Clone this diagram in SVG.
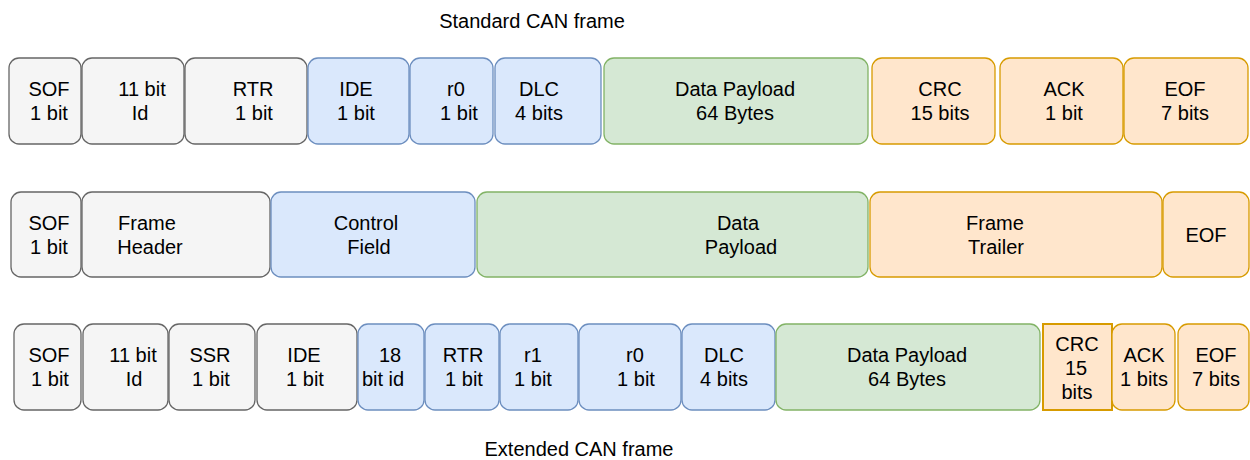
<svg xmlns="http://www.w3.org/2000/svg" width="1250" height="460" viewBox="0 0 1250 460">
<style>
text{font-family:"Liberation Sans",Arial,sans-serif;font-size:20px;fill:#000;text-anchor:middle}
rect{stroke-width:1.3}
.g{fill:#f5f5f5;stroke:#666666}
.b{fill:#dae8fc;stroke:#6c8ebf}
.d{fill:#d5e8d4;stroke:#82b366}
.o{fill:#ffe6cc;stroke:#d79b00}
</style>
<rect width="1250" height="460" fill="#ffffff" stroke="none"/>
<g id="titles">
<text x="532" y="28">Standard CAN frame</text>
<text x="579" y="456">Extended CAN frame</text>
</g>
<g id="connectors"></g>
<!-- Standard frame -->
<g id="s-sof"><rect class="g" x="9" y="58" width="72" height="86" rx="10"/><text x="49" y="96">SOF</text><text x="49" y="120">1 bit</text></g>
<g id="s-id"><rect class="g" x="82" y="58" width="102" height="86" rx="10"/><text x="142" y="96">11 bit</text><text x="140" y="120">Id</text></g>
<g id="s-rtr"><rect class="g" x="185" y="58" width="122" height="86" rx="10"/><text x="253" y="96">RTR</text><text x="254" y="120">1 bit</text></g>
<g id="s-ide"><rect class="b" x="308" y="58" width="101" height="86" rx="10"/><text x="356" y="96">IDE</text><text x="356" y="120">1 bit</text></g>
<g id="s-r0"><rect class="b" x="410" y="58" width="83" height="86" rx="10"/><text x="456" y="96">r0</text><text x="459" y="120">1 bit</text></g>
<g id="s-dlc"><rect class="b" x="495" y="58" width="106" height="86" rx="10"/><text x="539" y="96">DLC</text><text x="539" y="120">4 bits</text></g>
<g id="s-data"><rect class="d" x="604" y="58" width="264" height="86" rx="10"/><text x="735" y="96">Data Payload</text><text x="735" y="120">64 Bytes</text></g>
<g id="s-crc"><rect class="o" x="872" y="58" width="123" height="86" rx="10"/><text x="940" y="96">CRC</text><text x="940" y="120">15 bits</text></g>
<g id="s-ack"><rect class="o" x="1000" y="58" width="123" height="86" rx="10"/><text x="1064" y="96">ACK</text><text x="1064" y="120">1 bit</text></g>
<g id="s-eof"><rect class="o" x="1124" y="58" width="124" height="86" rx="10"/><text x="1185" y="96">EOF</text><text x="1185" y="120">7 bits</text></g>
<!-- Generic frame -->
<g id="m-sof"><rect class="g" x="11" y="192" width="70" height="85" rx="10"/><text x="49" y="230">SOF</text><text x="49" y="254">1 bit</text></g>
<g id="m-header"><rect class="g" x="82" y="192" width="188" height="85" rx="10"/><text x="147" y="230">Frame</text><text x="150" y="254">Header</text></g>
<g id="m-control"><rect class="b" x="271" y="192" width="204" height="85" rx="10"/><text x="366" y="230">Control</text><text x="369" y="254">Field</text></g>
<g id="m-data"><rect class="d" x="477" y="192" width="391" height="85" rx="10"/><text x="738" y="230">Data</text><text x="741" y="254">Payload</text></g>
<g id="m-trailer"><rect class="o" x="870" y="192" width="292" height="85" rx="10"/><text x="995" y="230">Frame</text><text x="996" y="254">Trailer</text></g>
<g id="m-eof"><rect class="o" x="1163" y="192" width="86" height="85" rx="10"/><text x="1206" y="242">EOF</text></g>
<!-- Extended frame -->
<g id="e-sof"><rect class="g" x="14" y="324" width="67" height="86" rx="10"/><text x="49" y="362">SOF</text><text x="50" y="386">1 bit</text></g>
<g id="e-id"><rect class="g" x="83" y="324" width="85" height="86" rx="10"/><text x="133" y="362">11 bit</text><text x="134" y="386">Id</text></g>
<g id="e-ssr"><rect class="g" x="169" y="324" width="86" height="86" rx="10"/><text x="210" y="362">SSR</text><text x="211" y="386">1 bit</text></g>
<g id="e-ide"><rect class="g" x="257" y="324" width="100" height="86" rx="10"/><text x="304" y="362">IDE</text><text x="305" y="386">1 bit</text></g>
<g id="e-18"><rect class="b" x="358" y="324" width="66" height="86" rx="10"/><text x="390" y="362">18</text><text x="383" y="386">bit id</text></g>
<g id="e-rtr"><rect class="b" x="425" y="324" width="74" height="86" rx="10"/><text x="463" y="362">RTR</text><text x="464" y="386">1 bit</text></g>
<g id="e-r1"><rect class="b" x="500" y="324" width="78" height="86" rx="10"/><text x="533" y="362">r1</text><text x="533" y="386">1 bit</text></g>
<g id="e-r0"><rect class="b" x="579" y="324" width="102" height="86" rx="10"/><text x="635" y="362">r0</text><text x="636" y="386">1 bit</text></g>
<g id="e-dlc"><rect class="b" x="682" y="324" width="93" height="86" rx="10"/><text x="724" y="362">DLC</text><text x="724" y="386">4 bits</text></g>
<g id="e-data"><rect class="d" x="776" y="324" width="264" height="86" rx="10"/><text x="907" y="362">Data Payload</text><text x="907" y="386">64 Bytes</text></g>
<g id="e-crc"><rect class="o" x="1043" y="324" width="69" height="86" style="stroke-width:2"/><text x="1077" y="351">CRC</text><text x="1076" y="375">15</text><text x="1077" y="399">bits</text></g>
<g id="e-ack"><rect class="o" x="1112" y="324" width="63" height="86" rx="10"/><text x="1144" y="362">ACK</text><text x="1144" y="386">1 bits</text></g>
<g id="e-eof"><rect class="o" x="1178" y="324" width="71" height="86" rx="10"/><text x="1216" y="362">EOF</text><text x="1216" y="386">7 bits</text></g>
</svg>
